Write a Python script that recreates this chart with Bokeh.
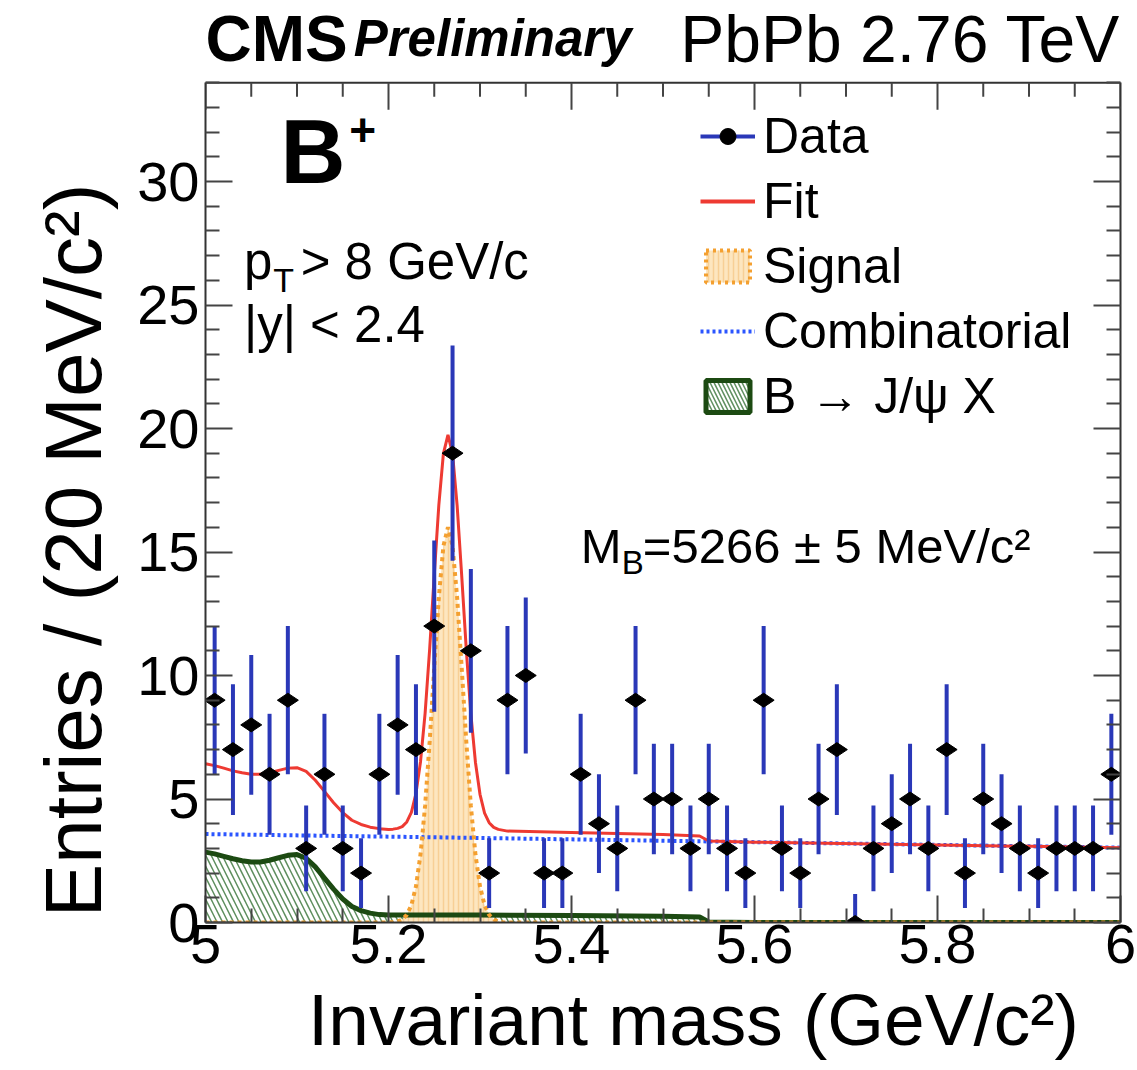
import numpy as np
from bokeh.plotting import figure
from bokeh.models import (Range1d, LinearAxis, FixedTicker, CustomJSTickFormatter,
                          Label, Legend, LegendItem, ColumnDataSource)
from bokeh.embed import file_html
from bokeh.resources import INLINE

# ---------------- data ----------------
bin_lo, bin_hi, bin_w = 5.0, 6.0, 0.02
counts = [9, 7, 8, 6, 9, 3, 6, 3, 2, 6,
          8, 7, 12, 19, 11, 2, 9, 10, 2, 2,
          6, 4, 3, 9, 5, 5, 3, 5, 3, 2,
          9, 3, 2, 5, 7, 0, 3, 4, 5, 3,
          7, 2, 5, 4, 3, 2, 3, 3, 3, 6]

# total fit (red)
fit_x = [5.00, 5.01, 5.02, 5.03, 5.04, 5.05, 5.06, 5.07, 5.08, 5.09, 5.10,
         5.11, 5.12, 5.13, 5.14, 5.15, 5.16, 5.17, 5.18, 5.19, 5.20,
         5.205, 5.21, 5.215, 5.22, 5.225, 5.23, 5.235, 5.24, 5.245, 5.25,
         5.255, 5.26, 5.265, 5.27, 5.275, 5.28, 5.285, 5.29, 5.295, 5.30,
         5.305, 5.31, 5.315, 5.32, 5.33, 5.40, 5.50, 5.54, 5.55, 5.60, 5.80, 6.00]
fit_y = [6.43, 6.35, 6.25, 6.14, 6.06, 6.00, 6.00, 6.06, 6.16, 6.25, 6.27,
         6.12, 5.76, 5.31, 4.85, 4.45, 4.14, 3.97, 3.86, 3.80, 3.77,
         3.78, 3.81, 3.88, 4.07, 4.46, 5.22, 6.51, 8.47, 11.08, 14.06,
         16.90, 18.98, 19.74, 18.98, 16.89, 14.04, 11.06, 8.45, 6.49, 5.19,
         4.43, 4.04, 3.85, 3.77, 3.70, 3.64, 3.56, 3.50, 3.30, 3.25, 3.14, 3.03]

# signal (orange)
sig_x = [5.00, 5.19, 5.20, 5.205, 5.21, 5.215, 5.22, 5.225, 5.23, 5.235, 5.24,
         5.245, 5.25, 5.255, 5.26, 5.265, 5.27, 5.275, 5.28, 5.285, 5.29,
         5.295, 5.30, 5.305, 5.31, 5.315, 5.32, 5.325, 5.33, 6.00]
sig_y = [0.0, 0.0, 0.004, 0.014, 0.044, 0.12, 0.31, 0.70, 1.46, 2.76, 4.72,
         7.33, 10.31, 13.16, 15.24, 16.0, 15.24, 13.16, 10.31, 7.33, 4.72,
         2.76, 1.46, 0.70, 0.31, 0.12, 0.04, 0.01, 0.0, 0.0]

# combinatorial (blue dotted)
comb_x = [5.0, 5.25, 5.5, 5.75, 6.0]
comb_y = [3.58, 3.45, 3.31, 3.17, 3.03]

# B -> J/psi X (green hatched)
jp_x = [5.00, 5.01, 5.02, 5.03, 5.04, 5.05, 5.06, 5.07, 5.08, 5.09, 5.10,
        5.11, 5.12, 5.13, 5.14, 5.15, 5.16, 5.17, 5.18, 5.19, 5.20,
        5.30, 5.40, 5.50, 5.54, 5.55, 5.60, 6.00]
jp_y = [2.85, 2.78, 2.68, 2.58, 2.50, 2.45, 2.45, 2.52, 2.62, 2.72, 2.75,
        2.60, 2.25, 1.80, 1.35, 0.95, 0.65, 0.48, 0.38, 0.32, 0.30,
        0.30, 0.28, 0.25, 0.22, 0.02, 0.0, 0.0]

x_ticks = [5.0, 5.2, 5.4, 5.6, 5.8, 6.0]
y_ticks = [0, 5, 10, 15, 20, 25, 30]
y_axis_max = 34

# ---------------- derived ----------------
n = np.array(counts, dtype=float)
centers = bin_lo + bin_w / 2 + bin_w * np.arange(len(counts))
err_lo = np.sqrt(n)
err_hi = np.where(n > 0, np.sqrt(n), 1.15)
data_src = ColumnDataSource(dict(x=centers, y=n, lo=n - err_lo, hi=n + err_hi))

FONT = "Liberation Sans"
BLUE_ERR = "#2a38b8"
RED = "#ee3a32"
ORANGE = "#f4a030"
ORANGE_FILL = "#fde6bf"
HATCH_ORANGE = "#f7cf95"
COMB = "#2b55ff"
GREEN = "#1c4a12"
HATCH_GREEN = "#5f8f5f"
AX = "#333333"
NBSP = "\u00a0"

PX_PER_UNIT = 24.7
FRAME_H = 922
y_top = FRAME_H / PX_PER_UNIT   # frame reaches the top of the canvas (room for the header)

p = figure(width=1137, height=1070, x_range=Range1d(bin_lo, bin_hi), y_range=Range1d(0, y_top),
           output_backend="svg", toolbar_location=None,
           min_border_left=205, min_border_right=17, min_border_top=0, min_border_bottom=148)
p.background_fill_color = "white"
p.border_fill_color = "white"
p.grid.visible = False
p.outline_line_color = None

minor_x = [v for v in np.round(np.arange(bin_lo, bin_hi + 1e-4, 0.05), 3) if v not in x_ticks]
minor_y = [v for v in range(0, y_axis_max + 1) if v % 5 != 0]
xt = FixedTicker(ticks=x_ticks, minor_ticks=minor_x)
yt = FixedTicker(ticks=y_ticks, minor_ticks=minor_y)

MAJ_IN, MIN_IN = 27, 14


def style_axis(ax, show_labels):
    ax.axis_line_color = AX
    ax.axis_line_width = 2
    ax.major_tick_in = MAJ_IN
    ax.major_tick_out = 0
    ax.minor_tick_in = MIN_IN
    ax.minor_tick_out = 0
    ax.major_tick_line_color = "#444444"
    ax.major_tick_line_width = 2
    ax.minor_tick_line_color = "#444444"
    ax.minor_tick_line_width = 2
    ax.major_label_text_font = FONT
    ax.major_label_text_font_size = "56px"
    ax.major_label_text_color = "black"
    if not show_labels:
        ax.formatter = CustomJSTickFormatter(code="return '';")
        ax.major_label_standoff = 0


xa = p.xaxis[0]
xa.ticker = xt
style_axis(xa, True)
xa.formatter = CustomJSTickFormatter(code="return Number(tick.toFixed(1)).toString();")
xa.major_label_standoff = 2
# ROOT-style titles sit toward the axis end: non-breaking spaces shift the centred title
xa.axis_label = NBSP * 3 + "Invariant mass (GeV/c²)"
xa.axis_label_text_font = FONT
xa.axis_label_text_font_size = "73px"
xa.axis_label_text_font_style = "normal"
xa.axis_label_text_color = "black"
xa.axis_label_standoff = 13

ya = p.yaxis[0]
ya.ticker = yt
ya.bounds = (0, y_axis_max)
style_axis(ya, True)
ya.major_label_standoff = 6
ya.axis_label = "Entries / (20 MeV/c²)" + NBSP * 8
ya.axis_label_text_font = FONT
ya.axis_label_text_font_size = "80px"
ya.axis_label_text_font_style = "normal"
ya.axis_label_text_color = "black"
ya.axis_label_standoff = 16

right_ax = LinearAxis(ticker=yt, bounds=(0, y_axis_max))
style_axis(right_ax, False)
p.add_layout(right_ax, "right")

# top edge of the frame with inward ticks
maj_len = MAJ_IN / PX_PER_UNIT
min_len = MIN_IN / PX_PER_UNIT
p.segment(x0=[bin_lo], y0=[y_axis_max], x1=[bin_hi], y1=[y_axis_max], line_color=AX, line_width=2)
p.segment(x0=x_ticks, y0=[y_axis_max] * len(x_ticks), x1=x_ticks,
          y1=[y_axis_max - maj_len] * len(x_ticks), line_color="#444444", line_width=2)
p.segment(x0=minor_x, y0=[y_axis_max] * len(minor_x), x1=minor_x,
          y1=[y_axis_max - min_len] * len(minor_x), line_color="#444444", line_width=2)

# ---------------- components ----------------
p.varea(x=jp_x, y1=[0] * len(jp_x), y2=jp_y, fill_color="white", fill_alpha=0.0,
        hatch_pattern="\\", hatch_color=HATCH_GREEN, hatch_scale=11, hatch_weight=1.5)
p.varea(x=sig_x, y1=[0] * len(sig_x), y2=sig_y, fill_color=ORANGE_FILL,
        hatch_pattern="|", hatch_color=HATCH_ORANGE, hatch_scale=5, hatch_weight=1.5)
p.line(jp_x, jp_y, line_color=GREEN, line_width=5)
p.line(comb_x, comb_y, line_color=COMB, line_width=4, line_dash="3 3")
p.line(sig_x, sig_y, line_color=ORANGE, line_width=4, line_dash="4 4")
p.line(fit_x, fit_y, line_color=RED, line_width=3)

# ---------------- data points ----------------
p.segment(x0="x", y0="lo", x1="x", y1="hi", source=data_src, line_color=BLUE_ERR, line_width=4)
p.scatter(x="x", y="y", source=data_src, marker="diamond", size=21, angle=np.pi / 2,
          fill_color="black", line_color="black")

# ---------------- legend (swatch renderers kept outside the visible ranges) ----------------
off = ColumnDataSource(dict(x=[-3.0, -2.0], y=[-3.0, -2.0]))
off_box = ColumnDataSource(dict(l=[-3.0], r=[-2.0], t=[-2.0], b=[-3.0]))
leg_data_line = p.line(x="x", y="y", source=off, line_color=BLUE_ERR, line_width=4)
leg_data_dot = p.scatter(x="x", y="y", source=off, marker="circle", size=13,
                         fill_color="black", line_color="black")
leg_fit = p.line(x="x", y="y", source=off, line_color=RED, line_width=4)
leg_sig = p.quad(left="l", right="r", top="t", bottom="b", source=off_box, fill_color=ORANGE_FILL,
                 hatch_pattern="|", hatch_color=HATCH_ORANGE, hatch_scale=5, hatch_weight=1.5,
                 line_color=ORANGE, line_width=4, line_dash="3 4")
leg_comb = p.line(x="x", y="y", source=off, line_color=COMB, line_width=4, line_dash="3 3")
leg_jp = p.quad(left="l", right="r", top="t", bottom="b", source=off_box, fill_color="white",
                hatch_pattern="\\", hatch_color=HATCH_GREEN, hatch_scale=8, hatch_weight=1.5,
                line_color=GREEN, line_width=5)

legend = Legend(items=[
    LegendItem(label="Data", renderers=[leg_data_line, leg_data_dot]),
    LegendItem(label="Fit", renderers=[leg_fit]),
    LegendItem(label="Signal", renderers=[leg_sig]),
    LegendItem(label="Combinatorial", renderers=[leg_comb]),
    LegendItem(label="B → J/ψ X", renderers=[leg_jp]),
], location=(495, 497), border_line_color=None, background_fill_alpha=0.0,
    label_text_font=FONT, label_text_font_size="50px", label_text_color="black",
    glyph_width=55, glyph_height=40, label_height=57, spacing=7, padding=0, margin=0,
    label_standoff=8)
p.add_layout(legend)

# ---------------- texts ----------------
def lab(x, y, text, size, style="normal", align="left"):
    p.add_layout(Label(x=x, y=y, text=text, text_font=FONT, text_font_size=size,
                       text_font_style=style, text_align=align, text_baseline="alphabetic",
                       text_color="black"))


lab(5.0, 35.78, "CMS", "64px", "bold")
lab(5.162, 35.78, "Preliminary", "51px", "bold italic")
lab(6.0, 35.78, "PbPb 2.76 TeV", "66px", "normal", "right")
lab(5.082, 31.2, "B", "90px", "bold")
lab(5.157, 32.1, "+", "46px", "bold")
lab(5.042, 26.75, "p", "51px")
lab(5.074, 26.0, "T", "34px")
lab(5.104, 26.75, "> 8 GeV/c", "51px")
lab(5.042, 24.2, "|y| < 2.4", "51px")
lab(5.410, 15.25, "M", "49px")
lab(5.455, 14.57, "B", "33px")
lab(5.478, 15.25, "=5266 ± 5 MeV/c²", "49px")

open("out.html", "w").write(file_html(p, INLINE))
